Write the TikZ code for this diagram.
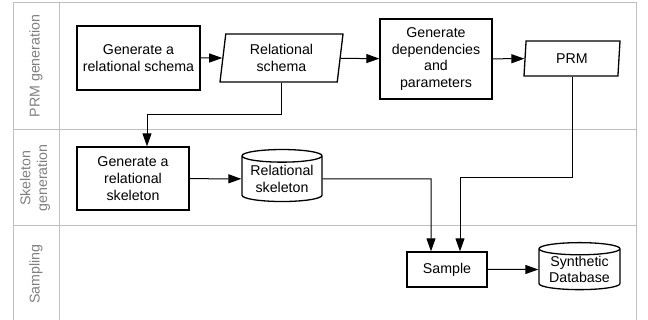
\documentclass[tikz,border=0pt]{standalone}
\usepackage{fontspec}
\setmainfont{Liberation Sans}
\usetikzlibrary{arrows.meta,shapes.geometric}

\begin{document}
\begin{tikzpicture}[x=1pt, y=-1pt,
        font=\fontsize{14.2}{16.7}\selectfont,
        proc/.style={draw, line width=1.3pt, align=center, inner sep=0pt},
        data/.style={draw, line width=1.3pt, align=center, inner sep=0pt, trapezium,
            trapezium left angle=78, trapezium right angle=102, trapezium stretches body},
        store/.style={draw, line width=1.3pt, align=center, inner sep=0pt, cylinder,
            shape border rotate=90, aspect=0.2},
        lane/.style={text=gray, rotate=90, align=center},
        flow/.style={line width=1pt, -{Triangle[length=13pt, width=9pt]}}]
        \useasboundingbox (0,0) rectangle (648,320);

        % swimlanes
        \draw[gray!50, line width=1pt] (13,320) -- (13,3) -- (636,3) -- (636,320)
              (59,3) -- (59,320)
              (13,130) -- (636,130)
              (13,226) -- (636,226);
        \node[lane] (l1) at (36,66) {PRM generation};
        \node[lane] (l2) at (35,178) {Skeleton\\generation};
        \node[lane] (l3) at (36,274) {Sampling};

        \node[proc, minimum width=123, minimum height=64] (gs) at (138.5,58) {Generate a\\relational schema};
        \node[data, minimum width=123, minimum height=48] (rs) at (281.5,58) {Relational\\schema};
        \node[proc, minimum width=112, minimum height=80] (gd) at (436,59) {Generate\\dependencies\\and\\parameters};
        \node[data, minimum width=96, minimum height=35] (prm) at (572,58.5) {PRM};
        \node[proc, minimum width=112, minimum height=63] (gk) at (133,178.5) {Generate a\\relational\\skeleton};
        \node[store, minimum width=80, minimum height=52] (rk) at (282,179) {Relational\\skeleton};
        \node[proc, minimum width=80, minimum height=35] (smp) at (447,269.5) {Sample};
        \node[store, minimum width=81, minimum height=47] (db) at (579.5,269.5) {Synthetic\\Database};

        \coordinate (b1) at (147,115);
        \coordinate (b2) at (431,179);
        \coordinate (b3) at (460,178);

        \draw[flow] (gs) -- (rs);
        \draw[flow] (rs) -- (gd);
        \draw[flow] (gd) -- (prm);
        \draw[flow] (rs.south) |- (b1) -- (b1 |- gk.north);
        \draw[flow] (gk) -- (rk);
        \draw[flow] (rk.east) -- (b2) -- (b2 |- smp.north);
        \draw[flow] (prm.south) |- (b3) -- (b3 |- smp.north);
        \draw[flow] (smp) -- (db);
    \end{tikzpicture}
\end{document}
